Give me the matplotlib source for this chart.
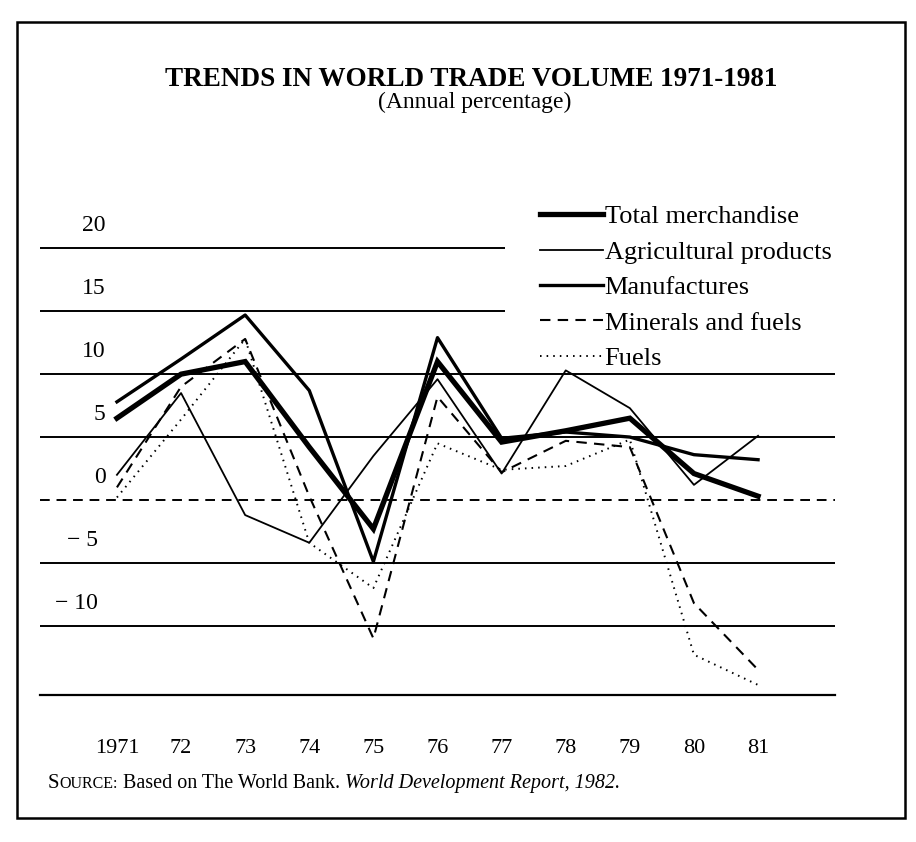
import matplotlib
matplotlib.use('Agg')
import matplotlib.pyplot as plt
from matplotlib.lines import Line2D
from matplotlib.patches import Rectangle

# ---- data (annual % change in world trade volume) ----
years = [1971, 1972, 1973, 1974, 1975, 1976, 1977, 1978, 1979, 1980, 1981]
year_labels = ['1971', '72', '73', '74', '75', '76', '77', '78', '79', '80', '81']
total_merchandise = [6.5, 10.0, 11.0, 4.2, -2.3, 11.0, 4.6, 5.5, 6.5, 2.1, 0.3]
agricultural = [2.0, 8.5, -1.2, -3.4, 3.5, 9.6, 2.1, 10.3, 7.3, 1.2, 5.1]
manufactures = [7.8, 11.2, 14.7, 8.7, -4.9, 12.9, 4.9, 5.4, 5.0, 3.6, 3.2]
minerals_fuels = [1.0, 9.0, 12.8, 0.3, -11.0, 8.2, 2.2, 4.7, 4.2, -8.2, -13.5]
fuels = [0.2, 6.4, 12.8, -3.4, -7.0, 4.5, 2.4, 2.7, 4.8, -12.3, -14.7]
series_names = ['Total merchandise', 'Agricultural products', 'Manufactures',
                'Minerals and fuels', 'Fuels']
grid_values = [20, 15, 10, 5, -5, -10]
label_values = [20, 15, 10, 5, 0, -5, -10]
label_texts = ['20', '15', '10', '5', '0', '\u2212 5', '\u2212 10']

SERIF = ['Liberation Serif', 'DejaVu Serif']
plt.rcParams['font.family'] = SERIF

W, H = 916, 842
fig = plt.figure(figsize=(W / 100, H / 100), dpi=100)

# outer frame
fig.patches.append(Rectangle((17 / W, 1 - 818 / H), (905 - 17) / W, (818 - 22) / H,
                             transform=fig.transFigure, fill=False,
                             edgecolor='black', linewidth=1.8))

ax = fig.add_axes([40 / W, (H - 695) / H, 795 / W, (695 - 198) / H])
ax.set_xlim(1969.8, 1982.2)
ax.set_ylim(-15.5, 24)
for s in ['top', 'left', 'right']:
    ax.spines[s].set_visible(False)
ax.spines['bottom'].set_linewidth(1.6)
ax.set_yticks([])

# horizontal rules
short_end = 1977.05
for v in grid_values:
    x1 = short_end if v >= 15 else 1982.2
    ax.plot([1969.8, x1], [v, v], color='black', lw=1.4, solid_capstyle='butt', zorder=1)
ax.plot([1969.8, 1982.2], [0, 0], color='black', lw=1.4, dashes=(5, 3.5), zorder=1)

# y labels sit above each rule
for v, t in zip(label_values, label_texts):
    xr = 1970.82 if v >= 0 else 1970.7
    ax.text(xr, v + 1.8, t, ha='right', va='center', fontsize=17)

# series
styles = [
    dict(color='black', lw=3.8, solid_joinstyle='miter'),
    dict(color='black', lw=1.3),
    dict(color='black', lw=2.4),
    dict(color='black', lw=1.5, dashes=(5, 3.5)),
    dict(color='black', lw=1.4, dashes=(0.8, 2.6)),
]
data = [total_merchandise, agricultural, manufactures, minerals_fuels, fuels]
for d, st in zip(data, styles):
    ax.plot(years, d, zorder=3, **st)

ax.set_xticks(years, year_labels)
ax.tick_params(axis='x', length=0, pad=32, labelsize=16)

# legend
handles = [Line2D([], [], **st) for st in styles]
leg = ax.legend(handles, series_names, loc='upper left',
                bbox_to_anchor=(540 / W, 1 - 205 / H), bbox_transform=fig.transFigure,
                frameon=False, fontsize=19, handlelength=2.4, handletextpad=0.05,
                labelspacing=0.45, borderpad=0, borderaxespad=0)

# title
fig.text(471 / W, 1 - 80 / H, 'TRENDS IN WORLD TRADE VOLUME 1971-1981',
         ha='center', va='center', fontsize=19.5, fontweight='bold')
fig.text(475 / W, 1 - 102 / H, '(Annual percentage)', ha='center', va='center',
         fontsize=17)

# source line with small caps
fig.canvas.draw()
r = fig.canvas.get_renderer()
x = 48
y = 1 - 788 / H
parts = [('S', 15, 'normal'), ('OURCE:', 11.5, 'normal'),
         (' Based on The World Bank. ', 14.5, 'normal'),
         ('World Development Report, 1982.', 14.5, 'italic')]
for txt, fs, style in parts:
    t = fig.text(x / W, y, txt, ha='left', va='baseline', fontsize=fs, fontstyle=style)
    bb = t.get_window_extent(renderer=r)
    x += bb.width

fig.savefig('out.png', dpi=100)
